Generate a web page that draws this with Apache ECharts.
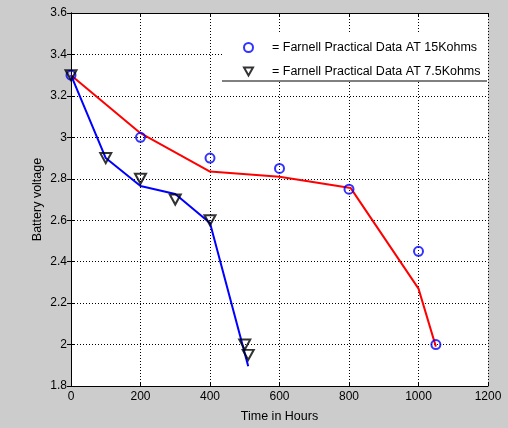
<!DOCTYPE html>
<html>
<head>
<meta charset="utf-8">
<script src="https://cdn.jsdelivr.net/npm/echarts@6/dist/echarts.min.js"></script>
<style>
  html, body { margin: 0; padding: 0; background: #cccccc; }
  #main { width: 508px; height: 428px; }
</style>
</head>
<body>
<div id="main"></div>
<script>
// measured data (circles / triangles) and the fitted lines
var name15 = "Farnell Practical Data AT 15Kohms";
var name75 = "Farnell Practical Data AT 7.5Kohms";
var pts15 = [[0, 3.3], [200, 3.0], [400, 2.9], [600, 2.85], [800, 2.75], [1000, 2.45], [1050, 2.0]];
var pts75 = [[0, 3.3], [100, 2.9], [200, 2.8], [300, 2.7], [400, 2.6], [500, 2.0], [510, 1.95]];
var fit15 = [[0, 3.3], [200, 3.02], [400, 2.835], [600, 2.81], [805, 2.755], [1000, 2.27], [1050, 1.99]];
var fit75 = [[0, 3.3], [100, 2.9], [200, 2.765], [300, 2.727], [400, 2.587], [510, 1.895]];

var chart = echarts.init(document.getElementById("main"));
var font = "'Liberation Sans', Arial, sans-serif";
var tri = "path://M0,0L10,0L5,9Z";
var dotted = { type: [1, 2], color: "#000", width: 1 };

chart.setOption({
  backgroundColor: "#cccccc",
  animation: false,
  textStyle: { fontFamily: font, color: "#000" },
  grid: {
    left: 71, top: 13, right: 20, bottom: 42,
    show: true, backgroundColor: "#fff", borderWidth: 0
  },
  xAxis: [{
    type: "value", min: 0, max: 1200, interval: 200,
    name: "Time in Hours", nameLocation: "middle", nameGap: 24,
    nameTextStyle: { fontSize: 12.5, color: "#000", fontFamily: font },
    axisLine: { show: true, lineStyle: { color: "#000", width: 1 } },
    axisTick: { show: true, inside: true, length: 4, lineStyle: { color: "#000" } },
    axisLabel: { fontSize: 12, color: "#000", margin: 5, fontFamily: font,
      formatter: function (v) { return String(v); } },
    splitLine: { show: true, lineStyle: dotted }
  }, {
    type: "value", position: "top", min: 0, max: 1200, interval: 200,
    axisLine: { show: true, lineStyle: { color: "#000", width: 1 } },
    axisTick: { show: true, inside: true, length: 4, lineStyle: { color: "#000" } },
    axisLabel: { show: false },
    splitLine: { show: false }
  }],
  yAxis: [{
    type: "value", min: 1.8, max: 3.6, interval: 0.2,
    name: "Battery voltage", nameLocation: "middle", nameGap: 27, nameRotate: 90,
    nameMoveOverlap: false,
    nameTextStyle: { fontSize: 12.5, color: "#000", fontFamily: font },
    axisLine: { show: true, lineStyle: { color: "#000", width: 1 } },
    axisTick: { show: true, inside: true, length: 4, lineStyle: { color: "#000" } },
    axisLabel: { fontSize: 12, color: "#000", margin: 4, fontFamily: font },
    splitLine: { show: true, lineStyle: dotted }
  }, {
    type: "value", position: "right", min: 1.8, max: 3.6, interval: 0.2,
    axisLine: { show: true, lineStyle: { color: "#000", width: 1 } },
    axisTick: { show: true, inside: true, length: 4, lineStyle: { color: "#000" } },
    axisLabel: { show: false },
    splitLine: { show: false }
  }],
  graphic: [
    { type: "rect", z: 3, shape: { x: 222, y: 33, width: 265, height: 48 }, style: { fill: "#fff" } },
    { type: "line", z: 3, shape: { x1: 222, y1: 81, x2: 487, y2: 81 }, style: { stroke: "#000", lineWidth: 1 } }
  ],
  legend: {
    orient: "vertical", left: 238, top: 36, z: 5,
    itemWidth: 9, itemHeight: 10, itemGap: 11,
    data: [name15, name75],
    formatter: function (n) { return "= " + n; },
    textStyle: { fontSize: 12.5, color: "#000", fontFamily: font, padding: [0, 0, 0, 14] }
  },
  series: [
    {
      name: "fit15", type: "line", data: fit15, symbol: "none", z: 2,
      lineStyle: { color: "#ff0000", width: 2 }
    },
    {
      name: "fit75", type: "line", data: fit75, symbol: "none", z: 2,
      lineStyle: { color: "#0000ff", width: 2 }
    },
    {
      name: name15, type: "scatter", data: pts15, symbol: "circle", symbolSize: 9, z: 3,
      itemStyle: { color: "rgba(0,0,0,0)", borderColor: "#0000ff", borderWidth: 2 }
    },
    {
      name: name75, type: "scatter", data: pts75, symbol: tri, symbolSize: [11, 10], z: 3,
      itemStyle: { color: "rgba(0,0,0,0)", borderColor: "#000", borderWidth: 2 }
    }
  ]
});
</script>
</body>
</html>
